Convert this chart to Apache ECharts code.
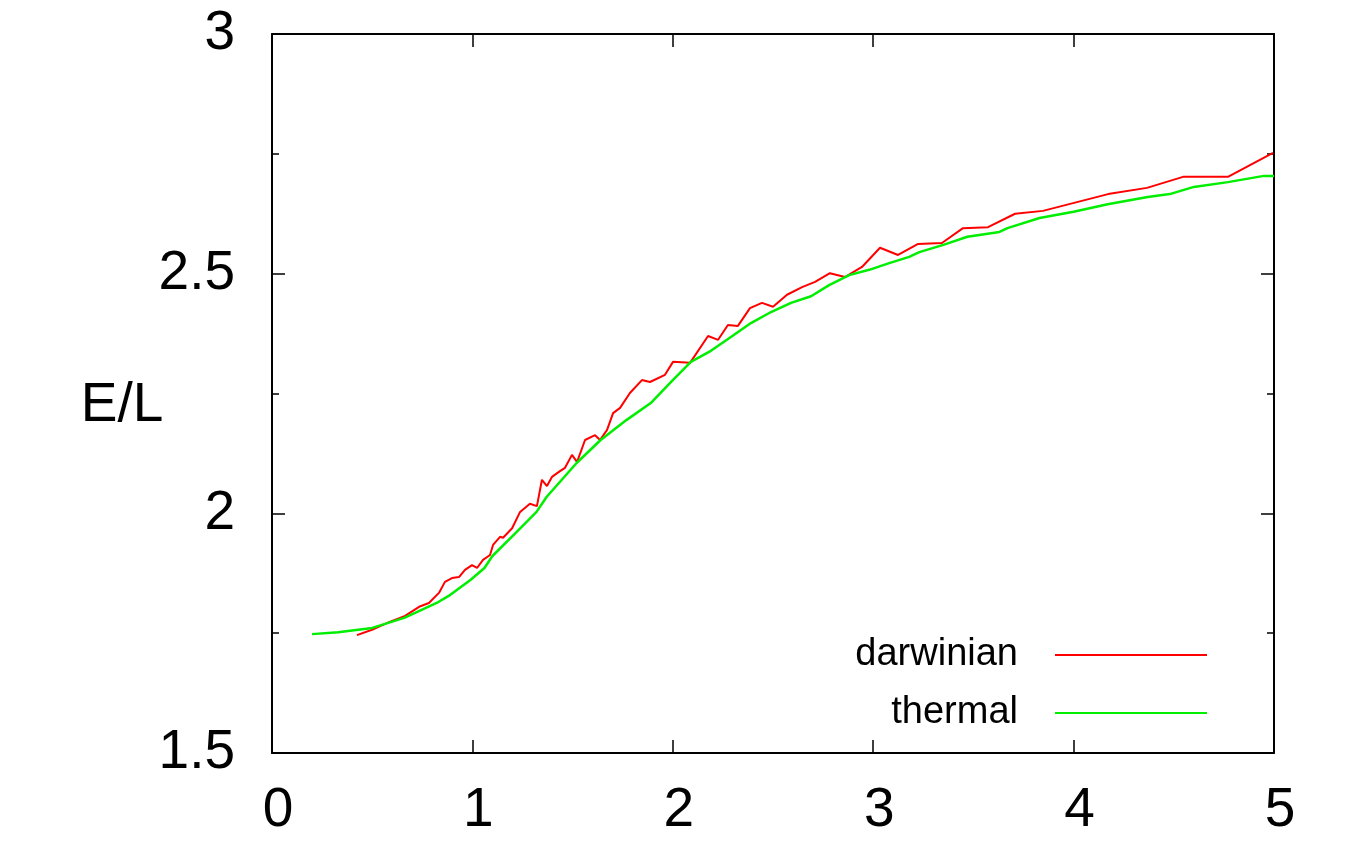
<!DOCTYPE html>
<html>
<head>
<meta charset="utf-8">
<script src="https://cdn.jsdelivr.net/npm/echarts@6/dist/echarts.min.js"></script>
<style>html,body{margin:0;padding:0;background:#fff;}#c{width:1352px;height:843px;}</style>
</head>
<body>
<div id="c"></div>
<script>
const seriesNames = ['darwinian', 'thermal'];
const xTicks = [0, 1, 2, 3, 4, 5];
const yTicks = [1.5, 2, 2.5, 3];
const darwinianX = [0.424,0.499,0.584,0.664,0.734,0.783,0.833,0.863,0.898,0.933,0.963,0.998,1.023,1.053,1.088,1.103,1.138,1.153,1.198,1.238,1.287,1.322,1.347,1.372,1.397,1.437,1.462,1.497,1.522,1.562,1.612,1.637,1.672,1.702,1.737,1.786,1.846,1.886,1.961,2.001,2.086,2.176,2.226,2.275,2.325,2.385,2.445,2.500,2.570,2.645,2.710,2.784,2.859,2.944,3.034,3.124,3.224,3.343,3.448,3.573,3.708,3.847,4.172,4.366,4.546,4.770,4.995];
const darwinianY = [1.746,1.757,1.773,1.786,1.805,1.813,1.834,1.857,1.865,1.867,1.882,1.892,1.886,1.903,1.913,1.934,1.951,1.949,1.969,2.003,2.020,2.015,2.070,2.057,2.076,2.088,2.095,2.122,2.107,2.153,2.163,2.153,2.174,2.209,2.220,2.251,2.278,2.274,2.289,2.316,2.314,2.370,2.362,2.393,2.391,2.428,2.439,2.431,2.456,2.472,2.483,2.501,2.493,2.514,2.554,2.539,2.562,2.564,2.595,2.597,2.625,2.631,2.666,2.679,2.702,2.702,2.752];
const thermalX = [0.20,0.33,0.50,0.66,0.83,0.89,0.99,1.06,1.10,1.22,1.32,1.37,1.52,1.64,1.77,1.89,2.00,2.09,2.19,2.29,2.39,2.49,2.59,2.69,2.78,2.88,2.98,3.08,3.18,3.23,3.35,3.47,3.63,3.67,3.83,4.00,4.17,4.37,4.48,4.60,4.77,4.95,5.00];
const thermalY = [1.748,1.752,1.761,1.782,1.815,1.830,1.861,1.886,1.911,1.961,2.003,2.034,2.105,2.153,2.195,2.230,2.278,2.316,2.339,2.368,2.397,2.420,2.439,2.453,2.476,2.497,2.508,2.522,2.535,2.545,2.560,2.577,2.587,2.595,2.616,2.629,2.645,2.660,2.666,2.681,2.691,2.704,2.704];

const FONT = '"Liberation Sans", Arial, sans-serif';
const zip = (xs, ys) => xs.map((x, i) => [x, ys[i]]);

const axisCommon = {
  axisLine: { show: true, onZero: false, lineStyle: { color: '#000', width: 2 } },
  axisTick: { show: true, inside: true, length: 13, lineStyle: { color: '#000', width: 1.5 } },
  splitLine: { show: false }
};

const chart = echarts.init(document.getElementById('c'));
chart.setOption({
  backgroundColor: '#fff',
  animation: false,
  grid: { left: 272, right: 78, top: 34, bottom: 90, containLabel: false },
  legend: {
    orient: 'vertical',
    right: 140,
    top: 630,
    align: 'right',
    icon: 'rect',
    itemWidth: 152,
    itemHeight: 2,
    itemGap: 18,
    data: seriesNames,
    textStyle: { fontFamily: FONT, fontSize: 38, color: '#000', lineHeight: 40, padding: [0, 32, 0, 0] }
  },
  xAxis: [{
    type: 'value', min: xTicks[0], max: xTicks[xTicks.length - 1], interval: 1, position: 'bottom',
    ...axisCommon,
    axisLabel: { show: true, fontFamily: FONT, fontSize: 55, color: '#000', margin: 30,
      padding: [0, 0, 0, 12],
      formatter: v => xTicks.includes(v) ? String(v) : '' }
  }, {
    type: 'value', min: xTicks[0], max: xTicks[xTicks.length - 1], interval: 1, position: 'top',
    ...axisCommon,
    axisLabel: { show: false }
  }],
  yAxis: [{
    type: 'value', min: yTicks[0], max: yTicks[yTicks.length - 1], interval: 0.5, position: 'left',
    ...axisCommon,
    minorTick: { show: true, splitNumber: 2, length: 7, lineStyle: { color: '#000', width: 1.5 } },
    name: 'E/L', nameLocation: 'middle', nameRotate: 0, nameGap: 150, nameMoveOverlap: false,
    nameTextStyle: { fontFamily: FONT, fontSize: 55, color: '#000', align: 'center', verticalAlign: 'top',
      lineHeight: 55, padding: [-15, 0, 0, 0] },
    axisLabel: { show: true, fontFamily: FONT, fontSize: 55, color: '#000', margin: 37,
      formatter: v => String(v) }
  }, {
    type: 'value', min: yTicks[0], max: yTicks[yTicks.length - 1], interval: 0.5, position: 'right',
    ...axisCommon,
    minorTick: { show: true, splitNumber: 2, length: 7, lineStyle: { color: '#000', width: 1.5 } },
    axisLabel: { show: false }
  }],
  series: [{
    name: seriesNames[0], type: 'line', data: zip(darwinianX, darwinianY),
    symbol: 'none', lineStyle: { color: '#ff0000', width: 2 }, itemStyle: { color: '#ff0000' }, z: 3
  }, {
    name: seriesNames[1], type: 'line', data: zip(thermalX, thermalY),
    symbol: 'none', lineStyle: { color: '#00ee00', width: 2.5 }, itemStyle: { color: '#00ee00' }, z: 4
  }]
});
</script>
</body>
</html>
